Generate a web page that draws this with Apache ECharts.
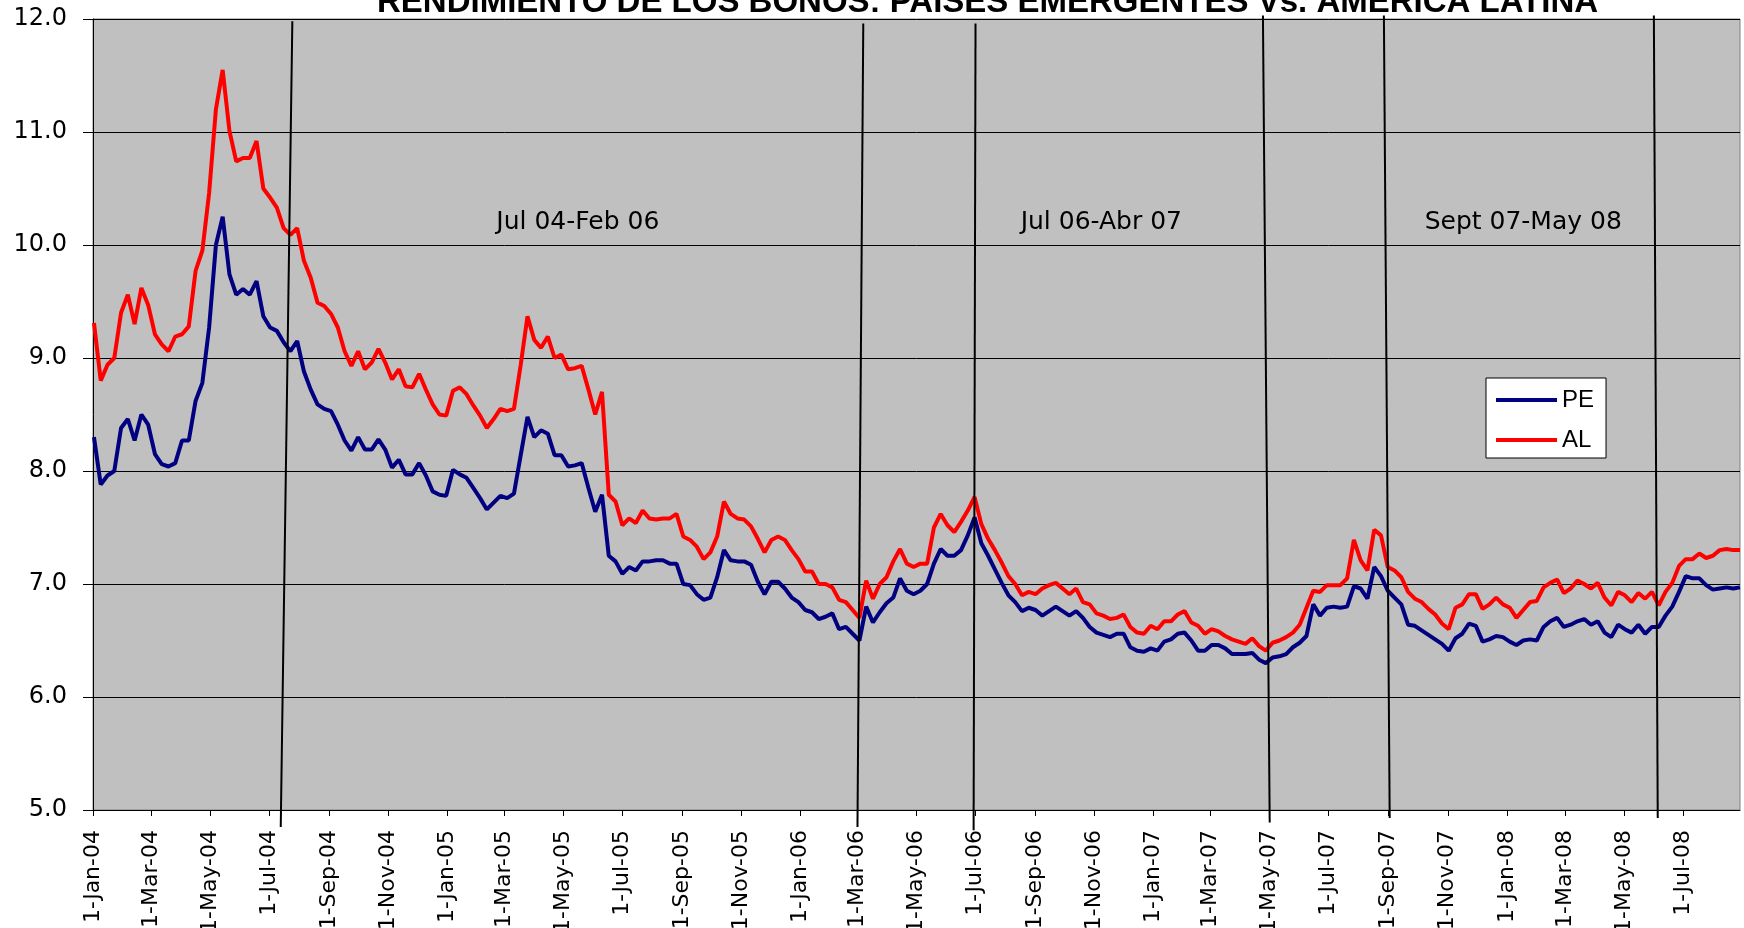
<!DOCTYPE html>
<html><head><meta charset="utf-8">
<script src="https://cdn.jsdelivr.net/npm/echarts@6/dist/echarts.min.js"></script>
<style>html,body{margin:0;padding:0;background:#fff;}#c{width:1744px;height:928px;}</style>
</head><body><div id="c"></div>
<script>
const titleText = 'RENDIMIENTO DE LOS BONOS: PAISES EMERGENTES Vs. AMERICA LATINA';
const seriesNames = ['PE', 'AL'];
const dates = [
'2004-01-02','2004-01-09','2004-01-16','2004-01-23','2004-01-30','2004-02-06','2004-02-13','2004-02-20','2004-02-27','2004-03-05','2004-03-12','2004-03-19','2004-03-26','2004-04-02','2004-04-09','2004-04-16','2004-04-23','2004-04-30','2004-05-07','2004-05-14','2004-05-21','2004-05-28','2004-06-04','2004-06-11','2004-06-18','2004-06-25','2004-07-02','2004-07-09','2004-07-16','2004-07-23','2004-07-30','2004-08-06','2004-08-13','2004-08-20','2004-08-27','2004-09-03','2004-09-10','2004-09-17','2004-09-24','2004-10-01','2004-10-08','2004-10-15','2004-10-22','2004-10-29','2004-11-05','2004-11-12','2004-11-19','2004-11-26','2004-12-03','2004-12-10','2004-12-17','2004-12-24','2004-12-31',
'2005-01-07','2005-01-14','2005-01-21','2005-01-28','2005-02-04','2005-02-11','2005-02-18','2005-02-25','2005-03-04','2005-03-11','2005-03-18','2005-03-25','2005-04-01','2005-04-08','2005-04-15','2005-04-22','2005-04-29','2005-05-06','2005-05-13','2005-05-20','2005-05-27','2005-06-03','2005-06-10','2005-06-17','2005-06-24','2005-07-01','2005-07-08','2005-07-15','2005-07-22','2005-07-29','2005-08-05','2005-08-12','2005-08-19','2005-08-26','2005-09-02','2005-09-09','2005-09-16','2005-09-23','2005-09-30','2005-10-07','2005-10-14','2005-10-21','2005-10-28','2005-11-04','2005-11-11','2005-11-18','2005-11-25','2005-12-02','2005-12-09','2005-12-16','2005-12-23','2005-12-30',
'2006-01-06','2006-01-13','2006-01-20','2006-01-27','2006-02-03','2006-02-10','2006-02-17','2006-02-24','2006-03-03','2006-03-10','2006-03-17','2006-03-24','2006-03-31','2006-04-07','2006-04-14','2006-04-21','2006-04-28','2006-05-05','2006-05-12','2006-05-19','2006-05-26','2006-06-02','2006-06-09','2006-06-16','2006-06-23','2006-06-30','2006-07-07','2006-07-14','2006-07-21','2006-07-28','2006-08-04','2006-08-11','2006-08-18','2006-08-25','2006-09-01','2006-09-08','2006-09-15','2006-09-22','2006-09-29','2006-10-06','2006-10-13','2006-10-20','2006-10-27','2006-11-03','2006-11-10','2006-11-17','2006-11-24','2006-12-01','2006-12-08','2006-12-15','2006-12-22','2006-12-29',
'2007-01-05','2007-01-12','2007-01-19','2007-01-26','2007-02-02','2007-02-09','2007-02-16','2007-02-23','2007-03-02','2007-03-09','2007-03-16','2007-03-23','2007-03-30','2007-04-06','2007-04-13','2007-04-20','2007-04-27','2007-05-04','2007-05-11','2007-05-18','2007-05-25','2007-06-01','2007-06-08','2007-06-15','2007-06-22','2007-06-29','2007-07-06','2007-07-13','2007-07-20','2007-07-27','2007-08-03','2007-08-10','2007-08-17','2007-08-24','2007-08-31','2007-09-07','2007-09-14','2007-09-21','2007-09-28','2007-10-05','2007-10-12','2007-10-19','2007-10-26','2007-11-02','2007-11-09','2007-11-16','2007-11-23','2007-11-30','2007-12-07','2007-12-14','2007-12-21','2007-12-28',
'2008-01-04','2008-01-11','2008-01-18','2008-01-25','2008-02-01','2008-02-08','2008-02-15','2008-02-22','2008-02-29','2008-03-07','2008-03-14','2008-03-21','2008-03-28','2008-04-04','2008-04-11','2008-04-18','2008-04-25','2008-05-02','2008-05-09','2008-05-16','2008-05-23','2008-05-30','2008-06-06','2008-06-13','2008-06-20','2008-06-27','2008-07-04','2008-07-11','2008-07-18','2008-07-25','2008-08-01','2008-08-08','2008-08-15','2008-08-22','2008-08-29'
];
const peValues = [
8.30,7.88,7.96,8.00,8.38,8.46,8.27,8.50,8.41,8.15,
8.06,8.04,8.07,8.27,8.27,8.62,8.78,9.27,10.00,10.25,
9.74,9.56,9.61,9.56,9.68,9.37,9.27,9.24,9.14,9.06,
9.15,8.88,8.72,8.59,8.55,8.53,8.41,8.27,8.18,8.30,
8.19,8.19,8.28,8.19,8.03,8.10,7.97,7.97,8.07,7.96,
7.82,7.79,7.78,
8.01,7.97,7.94,7.85,7.76,7.66,7.72,7.78,7.76,7.80,
8.14,8.48,8.30,8.36,8.33,8.14,8.14,8.04,8.05,8.07,
7.85,7.64,7.79,7.25,7.20,7.09,7.15,7.12,7.20,7.20,
7.21,7.21,7.18,7.18,7.00,6.99,6.91,6.86,6.88,7.06,
7.30,7.21,7.20,7.20,7.17,7.02,6.91,7.02,7.02,6.96,
6.88,6.84,
6.77,6.75,6.69,6.71,6.74,6.60,6.62,6.56,6.50,6.80,
6.66,6.75,6.83,6.88,7.05,6.94,6.91,6.94,7.00,7.18,
7.31,7.25,7.25,7.30,7.43,7.59,7.36,7.25,7.13,7.01,
6.90,6.84,6.76,6.79,6.77,6.72,6.76,6.80,6.76,6.72,
6.76,6.70,6.62,6.57,6.55,6.53,6.56,6.56,6.44,6.41,
6.40,6.43,
6.41,6.49,6.51,6.56,6.57,6.50,6.41,6.41,6.46,6.46,
6.43,6.38,6.38,6.38,6.39,6.33,6.30,6.35,6.36,6.38,
6.44,6.48,6.54,6.82,6.72,6.79,6.80,6.79,6.80,6.98,
6.96,6.87,7.15,7.07,6.94,6.88,6.82,6.64,6.63,6.59,
6.55,6.51,6.47,6.41,6.52,6.56,6.65,6.63,6.49,6.51,
6.54,6.53,
6.49,6.46,6.50,6.51,6.50,6.62,6.67,6.70,6.62,6.64,
6.67,6.69,6.64,6.67,6.57,6.53,6.64,6.60,6.57,6.64,
6.56,6.62,6.62,6.72,6.80,6.93,7.07,7.05,7.05,6.99,
6.95,6.96,6.97,6.96,6.97
];
const alValues = [
9.31,8.80,8.94,9.00,9.40,9.56,9.30,9.62,9.47,9.21,
9.12,9.06,9.19,9.21,9.28,9.77,9.95,10.46,11.20,11.55,
11.01,10.74,10.77,10.77,10.92,10.50,10.42,10.33,10.15,10.09,
10.15,9.86,9.71,9.49,9.46,9.39,9.27,9.06,8.93,9.06,
8.90,8.96,9.08,8.96,8.81,8.90,8.75,8.74,8.86,8.72,
8.59,8.50,8.49,
8.71,8.74,8.68,8.58,8.49,8.38,8.46,8.55,8.53,8.55,
8.94,9.37,9.16,9.09,9.19,9.00,9.03,8.90,8.91,8.93,
8.72,8.50,8.70,7.79,7.73,7.52,7.58,7.54,7.65,7.58,
7.57,7.58,7.58,7.62,7.42,7.39,7.33,7.22,7.28,7.42,
7.73,7.62,7.58,7.57,7.51,7.40,7.28,7.39,7.42,7.39,
7.30,7.22,
7.11,7.11,7.00,7.00,6.97,6.86,6.84,6.77,6.70,7.03,
6.87,7.00,7.06,7.20,7.31,7.18,7.15,7.18,7.18,7.50,
7.62,7.52,7.46,7.55,7.65,7.77,7.53,7.40,7.30,7.19,
7.07,7.00,6.90,6.93,6.91,6.96,6.99,7.01,6.96,6.91,
6.96,6.84,6.82,6.74,6.72,6.69,6.70,6.73,6.62,6.57,
6.56,6.63,
6.60,6.67,6.67,6.73,6.76,6.66,6.63,6.56,6.60,6.58,
6.54,6.51,6.49,6.47,6.52,6.45,6.41,6.48,6.50,6.53,
6.57,6.64,6.79,6.94,6.93,6.99,6.99,6.99,7.05,7.39,
7.21,7.12,7.48,7.43,7.15,7.12,7.06,6.93,6.87,6.84,
6.78,6.73,6.65,6.60,6.79,6.82,6.91,6.91,6.78,6.82,
6.88,6.82,
6.79,6.70,6.77,6.84,6.85,6.97,7.01,7.04,6.92,6.96,
7.03,7.00,6.96,7.01,6.88,6.81,6.93,6.90,6.84,6.92,
6.87,6.93,6.81,6.93,7.01,7.16,7.22,7.22,7.27,7.23,
7.25,7.30,7.31,7.30,7.30
];
const tickLabels = ['1-Jan-04','1-Mar-04','1-May-04','1-Jul-04','1-Sep-04','1-Nov-04',
'1-Jan-05','1-Mar-05','1-May-05','1-Jul-05','1-Sep-05','1-Nov-05',
'1-Jan-06','1-Mar-06','1-May-06','1-Jul-06','1-Sep-06','1-Nov-06',
'1-Jan-07','1-Mar-07','1-May-07','1-Jul-07','1-Sep-07','1-Nov-07',
'1-Jan-08','1-Mar-08','1-May-08','1-Jul-08'];
const xRange = ['2004-01-01', '2008-08-29'];
const yRange = [5, 12];
// period separator lines: [top date, top value, bottom date, bottom value]
const periodLines = [
  ['2004-07-25', 11.98, '2004-07-13', 4.85],
  ['2006-03-07', 11.96, '2006-03-01', 4.85],
  ['2006-07-01', 11.96, '2006-06-29', 4.82],
  ['2007-04-24', 12.03, '2007-05-01', 4.89],
  ['2007-08-27', 12.03, '2007-09-02', 4.93],
  ['2008-06-01', 12.03, '2008-06-05', 4.93]
];
// period labels: [text, centre date, value]
const periodLabels = [
  ['Jul 04-Feb 06', '2005-05-16', 10.2],
  ['Jul 06-Abr 07', '2006-11-08', 10.2],
  ['Sept 07-May 08', '2008-01-18', 10.2]
];

const MONTHS = ['Jan','Feb','Mar','Apr','May','Jun','Jul','Aug','Sep','Oct','Nov','Dec'];
function parseTick(s) { const p = s.split('-'); return new Date(2000 + (+p[2]), MONTHS.indexOf(p[1]), +p[0]).getTime(); }
function parseIso(s) { const p = s.split('-'); return new Date(+p[0], +p[1] - 1, +p[2]).getTime(); }
const tickValues = tickLabels.map(parseTick);
const FONT = 'Liberation Sans, Arial, sans-serif';
const WIDE = 'DejaVu Sans, Liberation Sans, sans-serif';

const chart = echarts.init(document.getElementById('c'), null, { renderer: 'canvas' });
const option = {
  backgroundColor: '#ffffff',
  animation: false,
  title: {
    text: titleText, left: 372, top: -19,
    textStyle: { fontFamily: FONT, fontSize: 33, fontWeight: 'bold', color: '#000' }
  },
  legend: {
    data: seriesNames, orient: 'vertical', left: 1486, top: 378,
    backgroundColor: '#ffffff', borderColor: '#000', borderWidth: 1,
    padding: [10, 12, 6, 10], itemGap: 16, itemWidth: 61, itemHeight: 4, icon: 'rect',
    textStyle: { fontFamily: FONT, fontSize: 24, color: '#000' }
  },
  grid: {
    left: 93, right: 4, top: 19, bottom: 118, show: true,
    containLabel: false, outerBoundsMode: 'none',
    backgroundColor: '#C0C0C0', borderColor: '#808080', borderWidth: 1
  },
  xAxis: {
    type: 'value', min: parseIso(xRange[0]), max: parseIso(xRange[1]),
    axisLine: { lineStyle: { color: '#000', width: 1 } },
    axisTick: { show: true, customValues: tickValues, length: 6, lineStyle: { color: '#000' } },
    axisLabel: {
      customValues: tickValues, rotate: 90, margin: 20, color: '#000',
      fontFamily: WIDE, fontSize: 22, showMinLabel: true, showMaxLabel: true,
      formatter: function (v) { const d = new Date(v); return d.getDate() + '-' + MONTHS[d.getMonth()] + '-' + String(d.getFullYear()).slice(2); }
    },
    splitLine: { show: false }
  },
  yAxis: {
    type: 'value', min: yRange[0], max: yRange[1], interval: 1,
    axisLine: { show: true, lineStyle: { color: '#000', width: 1 } },
    axisTick: { show: true, length: 10, lineStyle: { color: '#000' } },
    axisLabel: { margin: 26, color: '#000', fontFamily: WIDE, fontSize: 24, formatter: v => v.toFixed(1) },
    splitLine: { show: true, lineStyle: { color: '#000', width: 1 } }
  },
  series: [
    { name: seriesNames[0], type: 'line', showSymbol: false, symbol: 'none',
      data: dates.map((d, i) => [parseIso(d), peValues[i]]),
      lineStyle: { color: '#000080', width: 4 }, itemStyle: { color: '#000080' } },
    { name: seriesNames[1], type: 'line', showSymbol: false, symbol: 'none',
      data: dates.map((d, i) => [parseIso(d), alValues[i]]),
      lineStyle: { color: '#FF0000', width: 4 }, itemStyle: { color: '#FF0000' } }
  ]
};
chart.setOption(option);

const elements = [];
periodLines.forEach(function (l) {
  const a = chart.convertToPixel({ gridIndex: 0 }, [parseIso(l[0]), l[1]]);
  const b = chart.convertToPixel({ gridIndex: 0 }, [parseIso(l[2]), l[3]]);
  elements.push({ type: 'line', z: 100, shape: { x1: a[0], y1: a[1], x2: b[0], y2: b[1] },
    style: { stroke: '#000', lineWidth: 2 } });
});
periodLabels.forEach(function (t) {
  const p = chart.convertToPixel({ gridIndex: 0 }, [parseIso(t[1]), t[2]]);
  elements.push({ type: 'text', z: 100, x: p[0], y: p[1],
    style: { text: t[0], fontFamily: WIDE, fontSize: 25, fill: '#000', align: 'center', verticalAlign: 'middle' } });
});
chart.setOption({ graphic: { elements: elements } });
</script></body></html>
